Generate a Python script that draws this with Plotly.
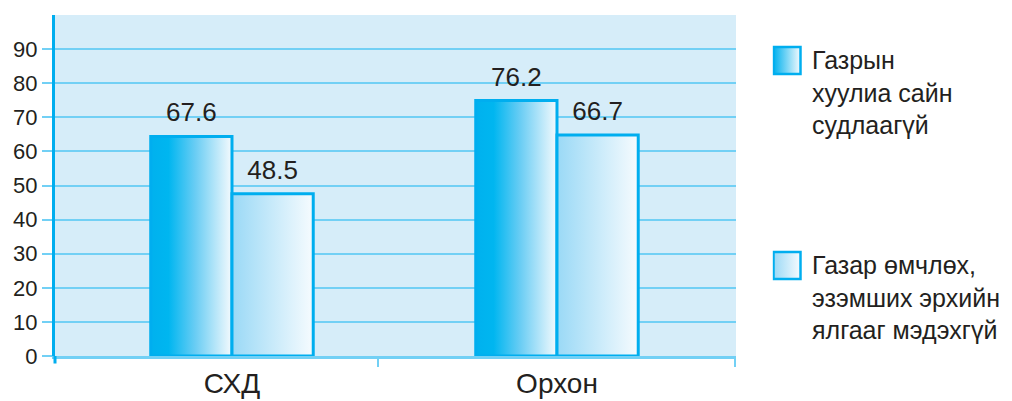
import plotly.graph_objects as go

# ---------------- data ----------------
categories = ["СХД", "Орхон"]
series_names = [
    "Газрын<br>хуулиа сайн<br>судлаагүй",
    "Газар өмчлөх,<br>эзэмших эрхийн<br>ялгааг мэдэхгүй",
]
# bar heights as drawn in the picture
series1_heights = [64.4, 74.9]
series2_heights = [47.6, 64.8]
# printed value labels
series1_labels = ["67.6", "76.2"]
series2_labels = ["48.5", "66.7"]
y_ticks = [0, 10, 20, 30, 40, 50, 60, 70, 80, 90]

# ---------------- style ----------------
FONT = "Liberation Sans, Arial, sans-serif"
TXT = "#231F20"
BG = "#D6EDF9"
GRID = "#72D0F5"
BLUE = "#00AEEF"
grad1 = [[0, "#00B1EE"], [0.22, "#00B6F0"], [0.55, "#6ACDF4"], [1, "#F4FAFD"]]
grad2 = [[0, "#9AD9F6"], [1, "#F6FBFE"]]
BAR_W = 0.25

fig = go.Figure()

heights = [series1_heights, series2_heights]
labels = [series1_labels, series2_labels]
grads = [grad1, grad2]

for s in range(2):
    for i, cat in enumerate(categories):
        h = heights[s][i]
        x0 = i - BAR_W + s * BAR_W
        x1 = x0 + BAR_W
        fig.add_trace(go.Scatter(
            x=[x0, x0, x1, x1, x0], y=[0, h, h, 0, 0],
            mode="lines", fill="toself",
            fillgradient=dict(type="horizontal", colorscale=grads[s]),
            line=dict(color=BLUE, width=3),
            showlegend=False, hoverinfo="skip",
        ))
    # value labels
    fig.add_trace(go.Scatter(
        x=[i - BAR_W / 2 + s * BAR_W for i in range(len(categories))],
        y=heights[s], mode="markers+text", text=labels[s],
        marker=dict(size=12, opacity=0),
        textposition="top center",
        textfont=dict(size=26, color=TXT, family=FONT),
        showlegend=False, hoverinfo="skip",
    ))

# legend symbols (drawn on a pixel-mapped auxiliary axis)
leg_x = [787, 787]
leg_y = [60.5, 265.5]
fig.add_trace(go.Scatter(
    x=leg_x, y=leg_y, mode="markers", xaxis="x2", yaxis="y2",
    marker=dict(symbol="square", size=27,
                color=["#00B1EE", "#9AD9F6"],
                gradient=dict(type="horizontal", color=["#F4FAFD", "#F6FBFE"]),
                line=dict(color=BLUE, width=2.5)),
    showlegend=False, hoverinfo="skip",
))
annotations = []
for k, name in enumerate(series_names):
    annotations.append(dict(
        x=810, y=leg_y[k] - 17, xref="x2", yref="y2",
        xanchor="left", yanchor="top", align="left", showarrow=False,
        text=name, font=dict(size=25, color=TXT, family=FONT),
    ))

W_PLOT = 1012 - 55
fig.update_layout(
    width=1012, height=401,
    margin=dict(l=55, r=0, t=15, b=45),
    paper_bgcolor="white", plot_bgcolor="rgba(0,0,0,0)",
    font=dict(family=FONT, color=TXT),
    showlegend=False,
    annotations=annotations,
    shapes=[
        dict(type="rect", xref="x domain", yref="y domain",
             x0=0, x1=1, y0=0, y1=1, fillcolor=BG, line_width=0, layer="below"),
        # short extension of the y-axis line below zero
        dict(type="line", xref="x domain", yref="y domain",
             x0=0, x1=0, y0=0, y1=-0.022, line=dict(color=BLUE, width=3)),
    ],
    xaxis=dict(
        domain=[0, 681 / W_PLOT], range=[-0.5446, 1.5508],
        tickmode="array", tickvals=list(range(len(categories))), ticktext=categories,
        tickfont=dict(size=28, color=TXT, family=FONT),
        showgrid=False, zeroline=False,
        showline=True, linecolor=GRID, linewidth=3,
        ticks="", automargin=False,
        minor=dict(tickmode="array", tickvals=[0.45, 1.548], ticks="outside",
                   ticklen=8, tickcolor=GRID, tickwidth=2, showgrid=False),
        fixedrange=True,
    ),
    yaxis=dict(
        range=[0, 100], tickmode="array", tickvals=y_ticks,
        tickfont=dict(size=22, color=TXT, family=FONT),
        showgrid=True, gridcolor=GRID, gridwidth=2,
        zeroline=False, automargin=False,
        showline=True, linecolor=BLUE, linewidth=3,
        ticks="outside", ticklen=10, tickcolor=GRID, tickwidth=2,
        fixedrange=True,
    ),
    xaxis2=dict(domain=[0.75, 1], range=[55 + 0.75 * W_PLOT, 1012],
                visible=False, anchor="y2", fixedrange=True),
    yaxis2=dict(domain=[0, 1], range=[356, 15], visible=False,
                anchor="x2", fixedrange=True),
)

fig.write_html(
    "out.html",
    config={"displayModeBar": False, "staticPlot": True},
    post_script="document.body.style.margin='0';document.body.style.overflow='hidden';",
)
